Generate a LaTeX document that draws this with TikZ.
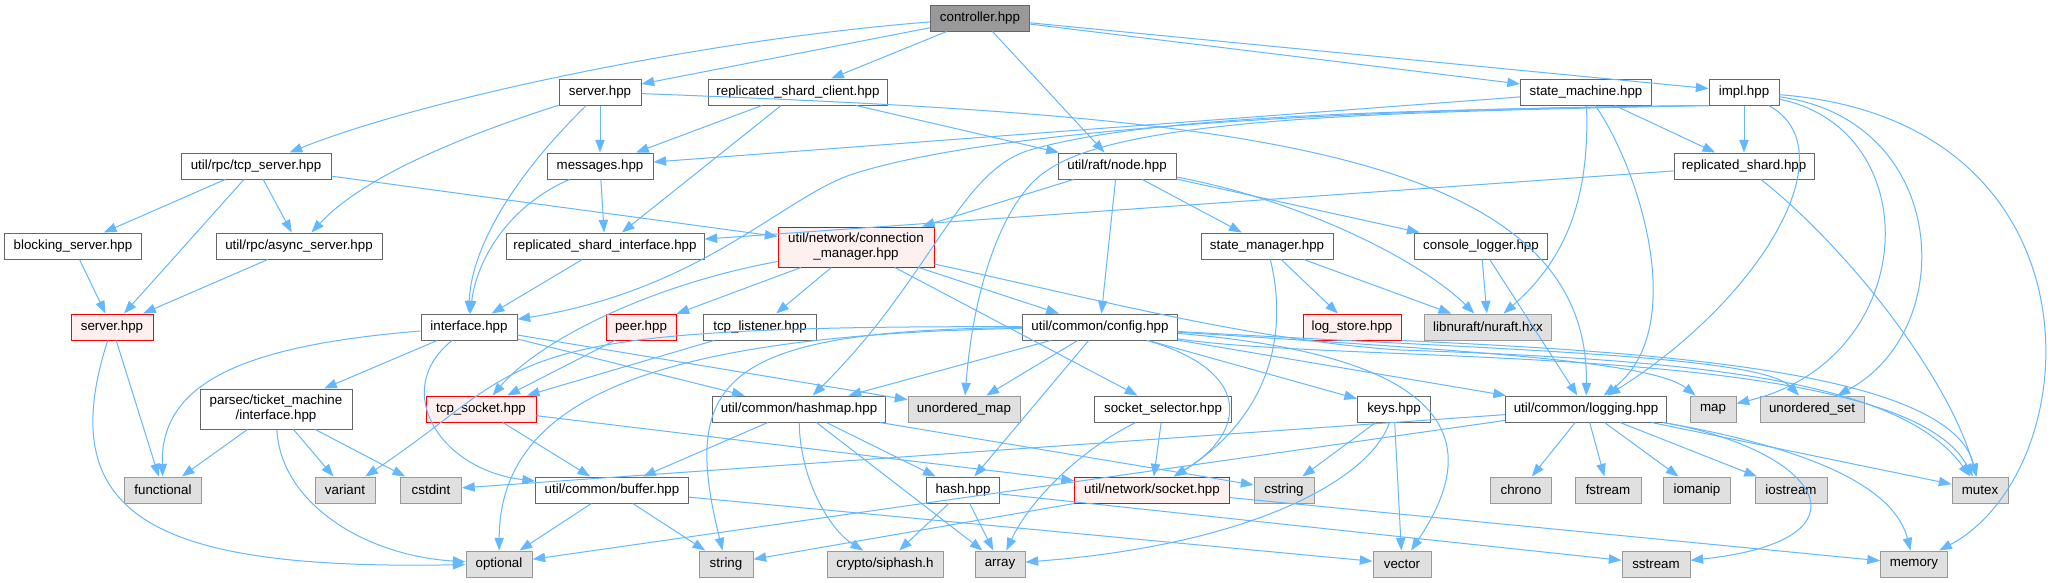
\documentclass[tikz,border=0pt]{standalone}
\usepackage{fontspec}
\setmainfont{Liberation Sans}
\usetikzlibrary{arrows.meta}
\definecolor{edgec}{HTML}{63B8FF}
\definecolor{nborder}{HTML}{666666}
\definecolor{xborder}{HTML}{999999}
\definecolor{xfill}{HTML}{E0E0E0}
\definecolor{rfill}{HTML}{FFF0F0}
\definecolor{rootfill}{HTML}{999999}
\begin{document}
\begin{tikzpicture}[x=0.75pt,y=-0.75pt,
  nb/.style={draw=nborder, fill=white, line width=0.75pt, inner sep=0pt,
    minimum height=19.5pt, font=\fontsize{10}{11.25}\selectfont, align=center},
  ext/.style={nb, draw=xborder, fill=xfill},
  trunc/.style={nb, draw=red, fill=rfill},
  root/.style={nb, fill=rootfill},
  bw/.style={minimum width=#1*0.75pt},
  two/.style={minimum height=30pt},
  dep/.style={draw=edgec, line width=0.75pt, -{Triangle[length=9.5pt,width=7pt]}}]
\fill[white] (0,0) rectangle (2060,582);
\useasboundingbox (0,0) rectangle (2060,582);

% rank 0
\node[root, bw=99] (controller) at (980,18) {controller.hpp};
% rank 1
\node[nb, bw=82] (server) at (600,92) {server.hpp};
\node[nb, bw=179] (rsc) at (798,92) {replicated\_shard\_client.hpp};
\node[nb, bw=131] (smachine) at (1586,92) {state\_machine.hpp};
\node[nb, bw=70] (impl) at (1744,92) {impl.hpp};
% rank 2
\node[nb, bw=150] (tcpserver) at (256,166) {util/rpc/tcp\_server.hpp};
\node[nb, bw=106] (messages) at (600,166) {messages.hpp};
\node[nb, bw=118] (raftnode) at (1117,166) {util/raft/node.hpp};
\node[nb, bw=140] (repshard) at (1744,166) {replicated\_shard.hpp};
% rank 3
\node[nb, bw=137] (blocking) at (73,246) {blocking\_server.hpp};
\node[nb, bw=166] (async) at (299,246) {util/rpc/async\_server.hpp};
\node[nb, bw=198] (rsi) at (605,246) {replicated\_shard\_interface.hpp};
\node[trunc, bw=156, two] (connmgr) at (856,247) {util/network/connection\\\_manager.hpp};
\node[nb, bw=132] (smanager) at (1267,246) {state\_manager.hpp};
\node[nb, bw=133] (clogger) at (1481,246) {console\_logger.hpp};
% rank 4
\node[trunc, bw=82] (serverred) at (112,327) {server.hpp};
\node[nb, bw=96] (interface) at (469,327) {interface.hpp};
\node[trunc, bw=70] (peer) at (641,327) {peer.hpp};
\node[nb, bw=113] (tcplistener) at (760,327) {tcp\_listener.hpp};
\node[nb, bw=155] (config) at (1100,327) {util/common/config.hpp};
\node[trunc, bw=98] (logstore) at (1352,327) {log\_store.hpp};
\node[ext, bw=127] (nuraft) at (1488,327) {libnuraft/nuraft.hxx};
% rank 5
\node[nb, bw=152, two] (parsec) at (276,409) {parsec/ticket\_machine\\/interface.hpp};
\node[trunc, bw=110] (tcpsocket) at (481,409) {tcp\_socket.hpp};
\node[nb, bw=173] (hashmap) at (799,409) {util/common/hashmap.hpp};
\node[ext, bw=112] (umap) at (964,409) {unordered\_map};
\node[nb, bw=137] (sselector) at (1163,409) {socket\_selector.hpp};
\node[nb, bw=73] (keys) at (1394,409) {keys.hpp};
\node[nb, bw=161] (logging) at (1586,409) {util/common/logging.hpp};
\node[ext, bw=46] (map) at (1713,409) {map};
\node[ext, bw=104] (uset) at (1812,409) {unordered\_set};
% rank 6
\node[ext, bw=77] (functional) at (163,490) {functional};
\node[ext, bw=60] (variant) at (345,490) {variant};
\node[ext, bw=61] (cstdint) at (431,490) {cstdint};
\node[nb, bw=153] (buffer) at (612,490) {util/common/buffer.hpp};
\node[nb, bw=73] (hash) at (963,490) {hash.hpp};
\node[trunc, bw=155] (socket) at (1152,490) {util/network/socket.hpp};
\node[ext, bw=60] (cstring) at (1284,490) {cstring};
\node[ext, bw=61] (chrono) at (1521,490) {chrono};
\node[ext, bw=66] (fstream) at (1608,490) {fstream};
\node[ext, bw=67] (iomanip) at (1697,490) {iomanip};
\node[ext, bw=72] (iostream) at (1791,490) {iostream};
\node[ext, bw=56] (mutex) at (1980,490) {mutex};
% rank 7
\node[ext, bw=66] (optional) at (499,564) {optional};
\node[ext, bw=54] (string) at (726,564) {string};
\node[ext, bw=116] (siphash) at (885,564) {crypto/siphash.h};
\node[ext, bw=50] (array) at (1000,564) {array};
\node[ext, bw=58] (vector) at (1402,564) {vector};
\node[ext, bw=68] (sstream) at (1656,564) {sstream};
\node[ext, bw=67] (memory) at (1914,564) {memory};

% controller
\draw[dep] (controller) .. controls (700,40) and (420,100) .. (tcpserver);
\draw[dep] (controller) -- (server);
\draw[dep] (controller) -- (rsc);
\draw[dep] (controller) -- (raftnode);
\draw[dep] (controller) -- (smachine);
\draw[dep] (controller) -- (impl);
% server
\draw[dep] (server) -- (messages);
\draw[dep] (server) .. controls (500,190) and (470,260) .. (interface);
\draw[dep] (server) .. controls (450,140) and (360,180) .. (async);
\draw[dep] (server) .. controls (1200,115) and (1590,140) .. (logging);
% replicated_shard_client
\draw[dep] (rsc) -- (messages);
\draw[dep] (rsc) -- (rsi);
\draw[dep] (rsc) -- (raftnode);
% state_machine
\draw[dep] (smachine) -- (messages);
\draw[dep] (smachine) -- (repshard);
\draw[dep] (smachine) .. controls (1590,200) and (1565,260) .. (nuraft);
\draw[dep] (smachine) .. controls (1640,170) and (1690,330) .. (logging);
% impl
\draw[dep] (impl) -- (repshard);
\draw[dep] (impl.south west) .. controls (1400,108) and (1000,125) .. (850,175)
   .. controls (780,200) and (700,290) .. (interface);
\draw[dep] (impl.south west) .. controls (1400,110) and (1150,115) .. (1030,150)
   .. controls (960,170) and (930,280) .. (hashmap);
\draw[dep] (impl.south west) .. controls (1400,112) and (1120,116) .. (1045,172)
   .. controls (1010,195) and (975,270) .. (umap);
\draw[dep] (impl) .. controls (1850,150) and (1760,300) .. (logging);
\draw[dep] (impl) .. controls (1930,130) and (1920,360) .. (map);
\draw[dep] (impl) .. controls (1950,120) and (1960,330) .. (uset);
\draw[dep] (impl) .. controls (2110,120) and (2090,470) .. (memory);
% tcp_server
\draw[dep] (tcpserver) -- (blocking);
\draw[dep] (tcpserver) -- (serverred);
\draw[dep] (tcpserver) -- (async);
\draw[dep] (tcpserver) -- (connmgr);
% messages
\draw[dep] (messages) -- (rsi);
\draw[dep] (messages) .. controls (500,210) and (475,270) .. (interface);
% raft node
\draw[dep] (raftnode) -- (connmgr);
\draw[dep] (raftnode) -- (config);
\draw[dep] (raftnode) -- (smanager);
\draw[dep] (raftnode) -- (clogger);
\draw[dep] (raftnode) .. controls (1300,200) and (1420,260) .. (nuraft);
% replicated_shard
\draw[dep] (repshard) -- (rsi);
\draw[dep] (repshard) .. controls (1850,250) and (1950,380) .. (mutex);
% rank 3
\draw[dep] (blocking) -- (serverred);
\draw[dep] (async) -- (serverred);
\draw[dep] (rsi) -- (interface);
\draw[dep] (connmgr) .. controls (650,285) and (540,340) .. (tcpsocket);
\draw[dep] (connmgr) -- (peer);
\draw[dep] (connmgr) -- (tcplistener);
\draw[dep] (connmgr) -- (config);
\draw[dep] (connmgr) -- (sselector);
\draw[dep] (connmgr) .. controls (1100,300) and (1250,340) .. (1400,350)
   .. controls (1700,360) and (1900,380) .. (mutex);
\draw[dep] (smanager) -- (logstore);
\draw[dep] (smanager) -- (nuraft);
\draw[dep] (smanager) .. controls (1290,340) and (1265,420) .. (socket);
\draw[dep] (clogger) -- (nuraft);
\draw[dep] (clogger) -- (logging);
% rank 4
\draw[dep] (serverred) -- (functional);
\draw[dep] (serverred) .. controls (50,520) and (160,570) .. (optional);
\draw[dep] (interface) .. controls (250,345) and (160,380) .. (functional);
\draw[dep] (interface) -- (parsec);
\draw[dep] (interface) .. controls (390,390) and (440,470) .. (buffer);
\draw[dep] (interface) -- (hashmap);
\draw[dep] (interface) -- (umap);
\draw[dep] (peer) -- (tcpsocket);
\draw[dep] (tcplistener) -- (tcpsocket);
\draw[dep] (config) -- (hashmap);
\draw[dep] (config) -- (umap);
\draw[dep] (config) -- (hash);
\draw[dep] (config) .. controls (1250,370) and (1250,430) .. (socket);
\draw[dep] (config) -- (keys);
\draw[dep] (config) -- (logging);
\draw[dep] (config) .. controls (1450,350) and (1650,360) .. (map);
\draw[dep] (config) .. controls (1500,350) and (1760,355) .. (uset);
\draw[dep] (config) .. controls (1350,365) and (1900,340) .. (mutex);
\draw[dep] (config) .. controls (480,325) and (540,360) .. (variant);
\draw[dep] (config) .. controls (650,335) and (500,400) .. (optional);
\draw[dep] (config) .. controls (720,330) and (680,380) .. (string);
\draw[dep] (config) .. controls (1500,360) and (1465,470) .. (vector);
\draw[dep] (logstore.south east) .. controls (1650,352) and (1950,370) .. (mutex);
% rank 5
\draw[dep] (parsec) -- (functional);
\draw[dep] (parsec) -- (variant);
\draw[dep] (parsec) -- (cstdint);
\draw[dep] (parsec) .. controls (280,500) and (360,555) .. (optional);
\draw[dep] (tcpsocket) -- (buffer);
\draw[dep] (tcpsocket) -- (socket);
\draw[dep] (hashmap) -- (buffer);
\draw[dep] (hashmap) -- (hash);
\draw[dep] (hashmap) .. controls (800,480) and (830,530) .. (siphash);
\draw[dep] (hashmap) -- (array);
\draw[dep] (hashmap) -- (cstring);
\draw[dep] (sselector) -- (socket);
\draw[dep] (sselector) .. controls (1080,450) and (1030,500) .. (array);
\draw[dep] (keys) -- (cstring);
\draw[dep] (keys) -- (vector);
\draw[dep] (keys) .. controls (1370,480) and (1250,545) .. (array);
\draw[dep] (logging) -- (cstdint);
\draw[dep] (logging) -- (optional);
\draw[dep] (logging) -- (chrono);
\draw[dep] (logging) -- (fstream);
\draw[dep] (logging) -- (iomanip);
\draw[dep] (logging) -- (iostream);
\draw[dep] (logging) -- (mutex);
\draw[dep] (logging) .. controls (1820,450) and (1880,540) .. (sstream);
\draw[dep] (logging) .. controls (1820,450) and (1895,490) .. (memory);
% rank 6
\draw[dep] (buffer) -- (optional);
\draw[dep] (buffer) -- (string);
\draw[dep] (buffer) -- (vector);
\draw[dep] (hash) -- (siphash);
\draw[dep] (hash) -- (array);
\draw[dep] (hash) -- (sstream);
\draw[dep] (socket) -- (string);
\draw[dep] (socket) -- (memory);
\end{tikzpicture}
\end{document}
